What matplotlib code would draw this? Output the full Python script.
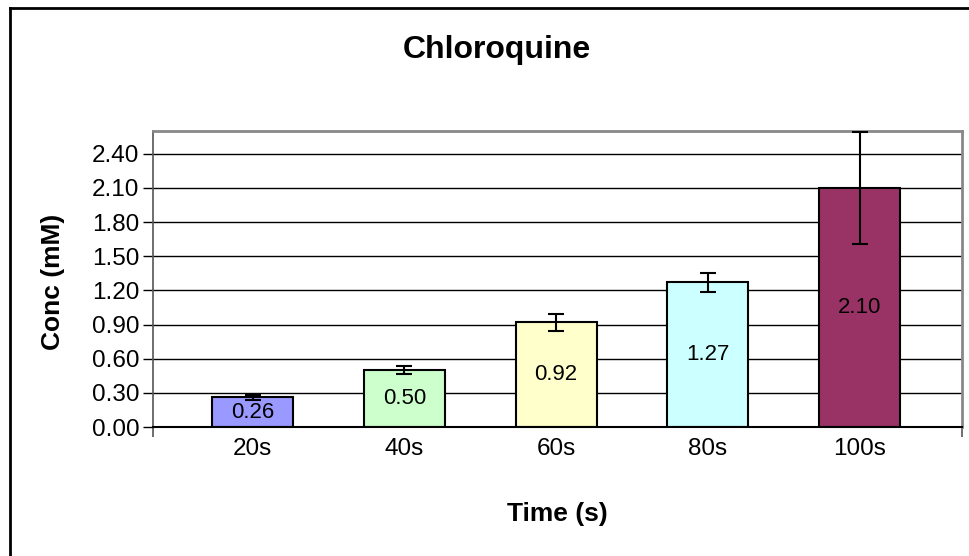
import matplotlib
matplotlib.use("Agg")
import matplotlib.pyplot as plt
from matplotlib.lines import Line2D
import numpy as np

plt.rcParams['font.family'] = ['Liberation Sans', 'DejaVu Sans']

categories = ["20s", "40s", "60s", "80s", "100s"]
values = [0.26, 0.50, 0.92, 1.27, 2.10]
errors = [0.02, 0.035, 0.075, 0.08, 0.49]
colors = ["#9999FF", "#CCFFCC", "#FFFFCC", "#CCFFFF", "#993366"]
yticks = [0.0, 0.3, 0.6, 0.9, 1.2, 1.5, 1.8, 2.1, 2.4]

W, H = 969, 556
fig = plt.figure(figsize=(W / 100, H / 100), dpi=100)

# outer chart border (left and top visible)
fig.add_artist(Line2D([9.5 / W, 9.5 / W], [0, 1 - 8 / H], color="black", lw=2, transform=fig.transFigure))
fig.add_artist(Line2D([9.5 / W, 1], [1 - 8 / H, 1 - 8 / H], color="black", lw=2, transform=fig.transFigure))

left, right, top, bottom = 153.3, 961.5, 131, 427
ax = fig.add_axes([left / W, 1 - bottom / H, (right - left) / W, (bottom - top) / H])

x = np.arange(len(categories))
ax.set_xlim(-0.654, 4.672)
ax.set_ylim(0, 2.6)

ax.set_axisbelow(True)
for t in yticks[1:]:
    ax.axhline(t, color="black", lw=1, zorder=0)

bars = ax.bar(x, values, width=0.534, color=colors, edgecolor="black", linewidth=1.5, zorder=2)
ax.errorbar(x, values, yerr=errors, fmt="none", ecolor="black", elinewidth=1.5,
            capsize=5.5, capthick=1.5, zorder=3)
ax.bar_label(bars, labels=[f"{v:.2f}" for v in values], label_type="center", fontsize=16, zorder=4)

ax.set_yticks(yticks)
ax.set_yticklabels([f"{t:.2f}" for t in yticks], fontsize=17.5)
ax.tick_params(axis="y", direction="out", length=7, width=1, pad=3, color="black")

ax.set_xticks(x)
ax.set_xticklabels(categories, fontsize=17.5)
ax.tick_params(axis="x", which="major", length=0, pad=8)
ax.set_xticks([-0.654, 4.672], minor=True)
ax.tick_params(axis="x", which="minor", direction="out", length=7, width=1.2, color="#555555")

for s in ["top", "right"]:
    ax.spines[s].set_color("#888888")
    ax.spines[s].set_linewidth(2)
ax.spines["left"].set_color("#555555")
ax.spines["left"].set_linewidth(1.2)
ax.spines["bottom"].set_color("black")
ax.spines["bottom"].set_linewidth(1.5)

fig.text(497 / W, 1 - 50 / H, "Chloroquine", fontsize=23, fontweight="bold", ha="center", va="center")
fig.text(557 / W, 1 - 514 / H, "Time (s)", fontsize=19, fontweight="bold", ha="center", va="center")
fig.text(53 / W, 1 - 282 / H, "Conc (mM)", fontsize=19, fontweight="bold", ha="center", va="center", rotation=90)

fig.savefig("out.png", dpi=100)
